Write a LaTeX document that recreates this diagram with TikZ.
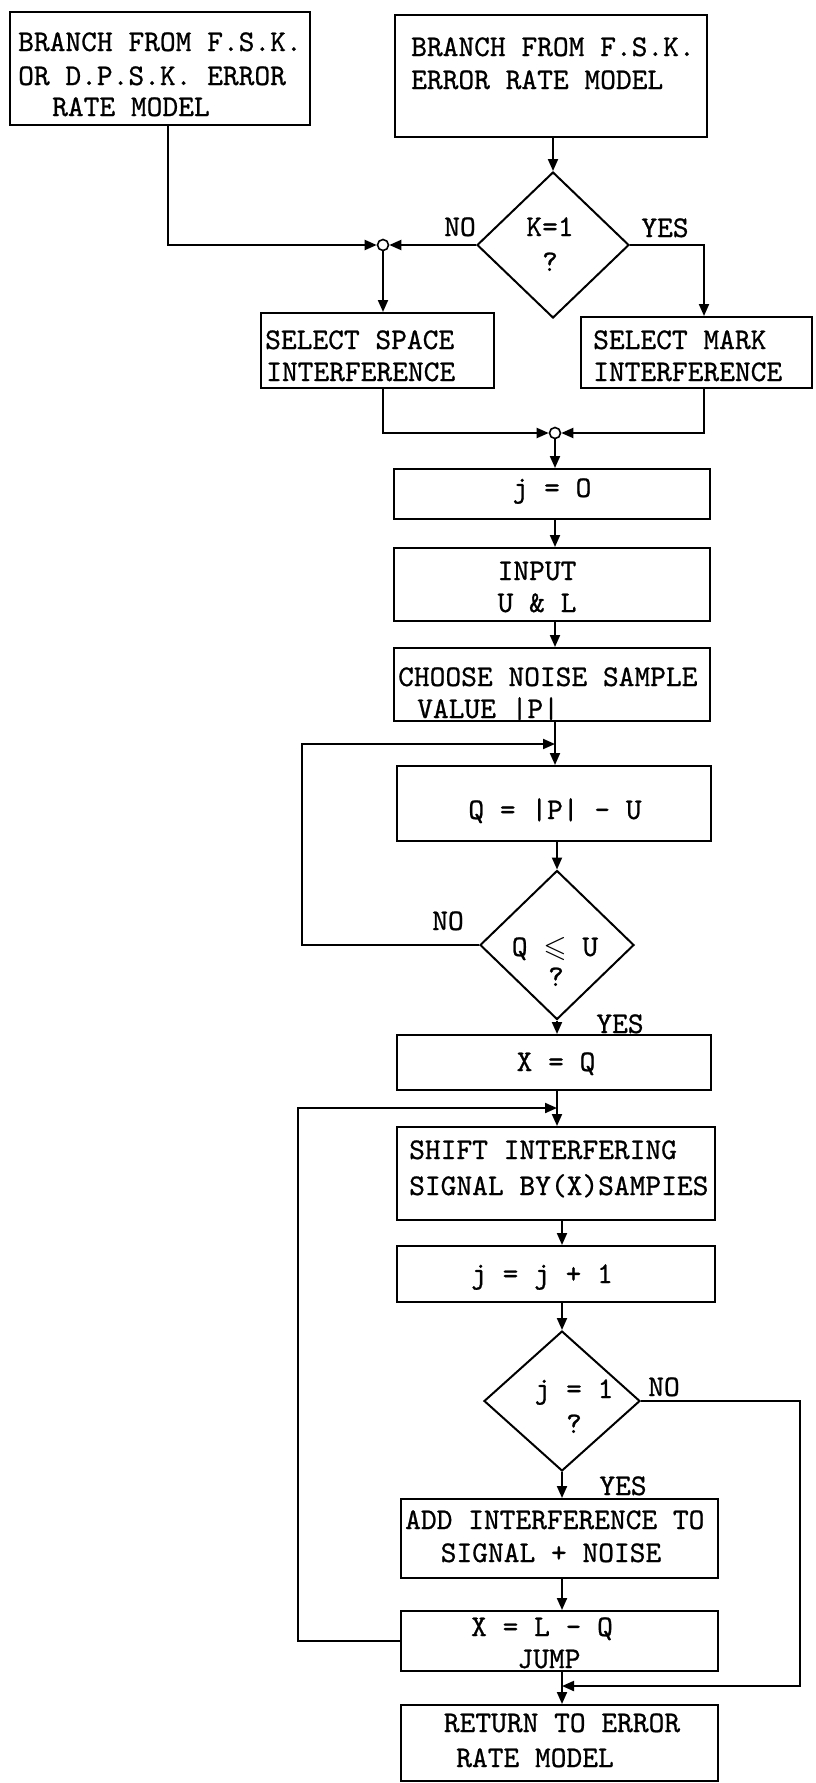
\documentclass[tikz,border=0pt]{standalone}
\usepackage{amssymb}
\usepackage{fontspec}
\newfontfamily\twfont{lmmono10-regular.otf}[FakeBold=0.8]
\usetikzlibrary{arrows.meta,shapes.geometric}
\tikzset{
  box/.style={draw, line width=2pt, rectangle, inner sep=0pt},
  dia/.style={draw, line width=2pt, diamond, inner sep=0pt},
  txt/.style={inner sep=0pt, font=\fontsize{30}{33}\selectfont\twfont, anchor=base},
  txtl/.style={txt, anchor=base west},
  ln/.style={line width=2pt},
  arr/.style={ln, -{Triangle[length=12pt,width=10pt]}},
  jn/.style={draw, circle, line width=1.6pt, minimum size=11pt, inner sep=0pt, fill=white},
}
\begin{document}
\begin{tikzpicture}[x=1pt,y=-1pt]
\useasboundingbox (0,0) rectangle (815,1783);
% boxes
\node[box, minimum width=300pt, minimum height=113pt] (A) at (160,68.5) {};
\node[box, minimum width=312pt, minimum height=122pt] (B) at (551,76) {};
\node[dia, minimum width=152pt, minimum height=146pt] (K) at (553,245) {};
\node[jn] (c1) at (383,245) {};
\node[box, minimum width=233pt, minimum height=75pt] (Space) at (377.5,350.5) {};
\node[box, minimum width=231pt, minimum height=71pt] (Mark) at (696.5,352.5) {};
\node[jn] (c2) at (555,433) {};
\node[box, minimum width=316pt, minimum height=50pt] (j0) at (552,494) {};
\node[box, minimum width=316pt, minimum height=73pt] (IN) at (552,584.5) {};
\node[box, minimum width=316pt, minimum height=73pt] (CH) at (552,684.5) {};
\node[box, minimum width=314pt, minimum height=75pt] (Q) at (554,803.5) {};
\node[dia, minimum width=154pt, minimum height=149pt] (QU) at (557,945) {};
\node[box, minimum width=314pt, minimum height=55pt] (XQ) at (554,1062.5) {};
\node[box, minimum width=318pt, minimum height=93pt] (SH) at (556,1173.5) {};
\node[box, minimum width=318pt, minimum height=56pt] (JJ) at (556,1274) {};
\node[dia, minimum width=156pt, minimum height=140pt] (J1) at (562,1401) {};
\node[box, minimum width=317pt, minimum height=79pt] (ADD) at (559.5,1538.5) {};
\node[box, minimum width=317pt, minimum height=60pt] (XLQ) at (559.5,1641) {};
\node[box, minimum width=317pt, minimum height=76pt] (RET) at (559.5,1743) {};
% texts
\node[txtl] (tA1) at (18,51) {BRANCH FROM F.S.K.};
\node[txtl] (tA2) at (18,85) {OR D.P.S.K. ERROR};
\node[txtl] (tA3) at (52,116) {RATE MODEL};
\node[txtl] (tB1) at (411,56) {BRANCH FROM F.S.K.};
\node[txtl] (tB2) at (411,89) {ERROR RATE MODEL};
\node[txt] (tK1) at (550,236) {K=1};
\node[txt] (tK2) at (550,271) {?};
\node[txt] (tKno) at (460,236) {NO};
\node[txt] (tKyes) at (665,237) {YES};
\node[txtl] (tS1) at (265,349) {SELECT SPACE};
\node[txtl] (tS2) at (266,381) {INTERFERENCE};
\node[txtl] (tM1) at (593,349) {SELECT MARK};
\node[txtl] (tM2) at (593,381) {INTERFERENCE};
\node[txt] (tj0) at (552,497) {j = O};
\node[txt] (tI1) at (537,580) {INPUT};
\node[txt] (tI2) at (537,612) {U \& L};
\node[txtl] (tC1) at (398,686) {CHOOSE NOISE SAMPLE};
\node[txtl] (tC2) at (417,718) {VALUE |P|};
\node[txt] (tQ) at (555,819) {Q = |P| - U};
\node[txt] (tQU1) at (555,956) {Q $\leqslant$ U};
\node[txt] (tQU2) at (556,986) {?};
\node[txt] (tQUno) at (448,930) {NO};
\node[txt] (tQUyes) at (620,1033) {YES};
\node[txt] (tXQ) at (556,1071) {X = Q};
\node[txtl] (tSh1) at (409,1159) {SHIFT INTERFERING};
\node[txtl] (tSh2) at (409,1195) {SIGNAL BY(X)SAMPIES};
\node[txt] (tjj) at (542,1283) {j = j + 1};
\node[txt] (tJ1) at (574,1398) {j = 1};
\node[txt] (tJ2) at (574,1433) {?};
\node[txt] (tJno) at (664,1396) {NO};
\node[txt] (tJyes) at (623,1495) {YES};
\node[txtl] (tAd1) at (405,1529) {ADD INTERFERENCE TO};
\node[txt] (tAd2) at (551,1562) {SIGNAL + NOISE};
\node[txt] (tX) at (542,1636) {X = L - Q};
\node[txt] (tJump) at (549,1668) {JUMP};
\node[txt] (tR1) at (562,1732) {RETURN TO ERROR};
\node[txt] (tR2) at (535,1767) {RATE MODEL};
% loop corners
\coordinate (l1) at (302,744);
\coordinate (l2) at (298,1108);
\coordinate (n1) at (800,1686);
% connectors
\draw[arr] (B.south -| K.north) -- (K.north);
\draw[arr] ([xshift=8pt]A.south) |- (c1.west);
\draw[arr] (K.west) -- (c1.east);
\draw[arr] (c1.south) -- (c1.south |- Space.north);
\draw[arr] (K.east) -| ([xshift=7.5pt]Mark.north);
\draw[arr] (Space.south -| c1) |- (c2.west);
\draw[arr] ([xshift=7.5pt]Mark.south) |- (c2.east);
\draw[arr] (c2.south) -- (c2.south |- j0.north);
\draw[arr] (j0.south -| c2) -- (IN.north -| c2);
\draw[arr] (IN.south -| c2) -- (CH.north -| c2);
\draw[arr] (CH.south -| c2) -- (Q.north -| c2);
\draw[arr] (Q.south -| QU.north) -- (QU.north);
\draw[arr] (QU.south) -- (XQ.north -| QU.south);
\draw[arr] (QU.west) -| (l1) -- (l1 -| c2);
\draw[arr] (XQ.south -| QU.south) -- (SH.north -| QU.south);
\draw[arr] (XLQ.west) -| (l2) -- (l2 -| QU.south);
\draw[arr] (SH.south -| J1.north) -- (JJ.north -| J1.north);
\draw[arr] (JJ.south -| J1.north) -- (J1.north);
\draw[arr] (J1.south) -- (ADD.north -| J1.south);
\draw[arr] (ADD.south -| J1.south) -- (XLQ.north -| J1.south);
\draw[arr] (XLQ.south -| J1.south) -- (RET.north -| J1.south);
\draw[arr] (J1.east) -| (n1) -- (n1 -| J1.south);
\end{tikzpicture}
\end{document}
